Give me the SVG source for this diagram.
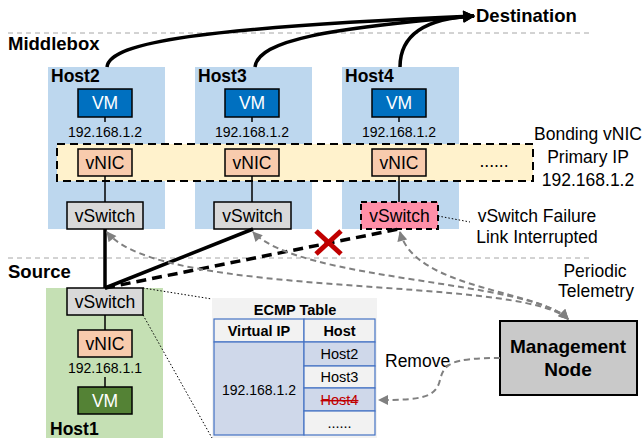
<svg xmlns="http://www.w3.org/2000/svg" width="643" height="438" viewBox="0 0 643 438">
<defs>
<style>
text{font-family:"Liberation Sans",Arial,sans-serif;fill:#000}
.b{font-weight:bold}
.host{fill:#BDD7EE}
.vm{fill:#0070C0;stroke:#000;stroke-width:1.5}
.vmt{fill:#fff;font-size:17.5px;text-anchor:middle}
.nic{fill:#F8CBAD;stroke:#000;stroke-width:1.5}
.sw{fill:#D9D9D9;stroke:#000;stroke-width:1.5}
.lbl{font-size:17.5px;text-anchor:middle}
.ip{font-size:14px;text-anchor:middle}
.stem{stroke:#000;stroke-width:1.5}
.sep{stroke:#A6A6A6;stroke-width:1;stroke-dasharray:5,4;fill:none}
.thick{stroke:#000;stroke-width:3.5;fill:none}
.tele{stroke:#808080;stroke-width:2;stroke-dasharray:6,4;fill:none}
.cell{stroke:#4472C4;stroke-width:1.2}
.tt{font-size:14.5px;text-anchor:middle}
.side{font-size:17.5px;text-anchor:middle}
</style>
<marker id="ab" viewBox="0 0 10 10" refX="9" refY="5" markerWidth="14" markerHeight="12" markerUnits="userSpaceOnUse" orient="auto"><path d="M0,0 L10,5 L0,10 z" fill="#000"/></marker>
<marker id="ag" viewBox="0 0 10 10" refX="9" refY="5" markerWidth="11" markerHeight="10" markerUnits="userSpaceOnUse" orient="auto-start-reverse"><path d="M0,0 L10,5 L0,10 z" fill="#808080"/></marker>
</defs>

<!-- separators -->
<line class="sep" x1="8" y1="33" x2="593" y2="33"/>
<line class="sep" x1="8" y1="258" x2="593" y2="258"/>

<text class="b" x="8" y="50" font-size="18.5">Middlebox</text>
<text class="b" x="8" y="278" font-size="18.5">Source</text>

<!-- hosts -->
<g id="host2">
<rect class="host" x="48" y="67" width="117" height="162"/>
<text class="b" x="51" y="82" font-size="17.5">Host2</text>
</g>
<g id="host3">
<rect class="host" x="195" y="67" width="117" height="162"/>
<text class="b" x="198" y="82" font-size="17.5">Host3</text>
</g>
<g id="host4">
<rect class="host" x="342" y="67" width="117" height="162"/>
<text class="b" x="345" y="82" font-size="17.5">Host4</text>
</g>

<!-- bonding -->
<g id="bonding">
<rect x="57" y="144" width="476" height="37" fill="#FFF2CC" stroke="#000" stroke-width="2" stroke-dasharray="8,5"/>
<text x="494" y="167" font-size="17.5" text-anchor="middle">......</text>
</g>

<g id="vm2"><rect class="vm" x="78" y="89" width="54" height="28"/><text class="vmt" x="105" y="109">VM</text><line class="stem" x1="105" y1="117" x2="105" y2="122"/><text class="ip" x="105" y="137">192.168.1.2</text></g>
<g id="vm3"><rect class="vm" x="225" y="89" width="54" height="28"/><text class="vmt" x="252" y="109">VM</text><line class="stem" x1="252" y1="117" x2="252" y2="122"/><text class="ip" x="252" y="137">192.168.1.2</text></g>
<g id="vm4"><rect class="vm" x="372" y="89" width="54" height="28"/><text class="vmt" x="399" y="109">VM</text><line class="stem" x1="399" y1="117" x2="399" y2="122"/><text class="ip" x="399" y="137">192.168.1.2</text></g>

<g id="vnic2"><rect class="nic" x="78" y="149" width="54" height="27"/><text class="lbl" x="105" y="169">vNIC</text><line class="stem" x1="105" y1="176" x2="105" y2="202"/></g>
<g id="vnic3"><rect class="nic" x="225" y="149" width="54" height="27"/><text class="lbl" x="252" y="169">vNIC</text><line class="stem" x1="252" y1="176" x2="252" y2="202"/></g>
<g id="vnic4"><rect class="nic" x="372" y="149" width="54" height="27"/><text class="lbl" x="399" y="169">vNIC</text><line class="stem" x1="399" y1="176" x2="399" y2="202"/></g>

<g id="vswitch2"><rect class="sw" x="67" y="202" width="76" height="27"/><text class="lbl" x="105" y="222">vSwitch</text></g>
<g id="vswitch3"><rect class="sw" x="214" y="202" width="77" height="27"/><text class="lbl" x="252.5" y="222">vSwitch</text></g>
<g id="vswitch4"><rect x="361" y="202" width="77" height="27" fill="#FF8FA8" stroke="#000" stroke-width="2" stroke-dasharray="6,4"/><text class="lbl" x="399.5" y="222">vSwitch</text></g>

<!-- host1 -->
<g id="host1">
<rect x="46" y="288" width="117" height="150" fill="#C5E0B4"/>
<rect class="sw" x="67" y="288" width="76" height="27"/><text class="lbl" x="105" y="308">vSwitch</text>
<line class="stem" x1="105" y1="315" x2="105" y2="330"/>
<rect class="nic" x="78" y="330" width="54" height="27"/><text class="lbl" x="105" y="350">vNIC</text>
<text class="ip" x="105" y="373">192.168.1.1</text>
<line class="stem" x1="105" y1="377" x2="105" y2="387"/>
<rect x="78" y="387" width="54" height="27" fill="#548235" stroke="#000" stroke-width="1.5"/><text class="vmt" x="105" y="407">VM</text>
<text class="b" x="50" y="435" font-size="17.5">Host1</text>
</g>

<!-- labels -->
<g id="destination"><text class="b" x="476" y="22" font-size="18.5">Destination</text></g>
<g id="bond-label">
<text class="side" x="588" y="140">Bonding vNIC</text>
<text class="side" x="588" y="163">Primary IP</text>
<text class="side" x="588" y="186">192.168.1.2</text>
</g>
<g id="failure-label">
<text class="side" x="537" y="222">vSwitch Failure</text>
<text class="side" x="537" y="243">Link Interrupted</text>
</g>
<g id="telemetry-label">
<text class="side" x="595" y="277">Periodic</text>
<text class="side" x="596" y="297">Telemetry</text>
</g>
<text x="385" y="367" font-size="17.5">Remove</text>

<!-- management -->
<g id="management">
<rect x="500" y="321" width="137" height="74" fill="#C9C9C9" stroke="#000" stroke-width="2"/>
<text class="b" x="568" y="353" font-size="19" text-anchor="middle">Management</text>
<text class="b" x="568" y="376" font-size="19" text-anchor="middle">Node</text>
</g>

<!-- ECMP table -->
<g id="ecmp">
<rect x="212" y="298" width="165" height="140" fill="#F2F2F2"/>
<text class="b" x="295" y="315" font-size="14.5" text-anchor="middle">ECMP Table</text>
<rect class="cell" x="214" y="319" width="90" height="23" fill="#F2F2F2"/>
<rect class="cell" x="304" y="319" width="71" height="23" fill="#F2F2F2"/>
<rect class="cell" x="214" y="342" width="90" height="93" fill="#CFD8EA"/>
<rect class="cell" x="304" y="342" width="71" height="24" fill="#CFD8EA"/>
<rect class="cell" x="304" y="366" width="71" height="22" fill="#F2F2F2"/>
<rect class="cell" x="304" y="388" width="71" height="23" fill="#CFD8EA"/>
<rect class="cell" x="304" y="411" width="71" height="24" fill="#F2F2F2"/>
<text class="b" x="259" y="336" font-size="14.5" text-anchor="middle">Virtual IP</text>
<text class="b" x="339.5" y="336" font-size="14.5" text-anchor="middle">Host</text>
<text x="259" y="395" font-size="14" text-anchor="middle">192.168.1.2</text>
<text class="tt" x="339.5" y="359">Host2</text>
<text class="tt" x="339.5" y="382">Host3</text>
<text class="tt" x="339.5" y="405" style="fill:#C00000" text-decoration="line-through">Host4</text>
<text class="tt" x="339.5" y="428">......</text>
</g>

<!-- connectors -->
<g id="connectors">
<path class="thick" d="M107,67 C110,42 200,28 474,16" marker-end="url(#ab)"/>
<path class="thick" d="M255,67 C258,40 330,28 474,16" marker-end="url(#ab)"/>
<path class="thick" d="M400,67 C400,32 430,18 474,16" marker-end="url(#ab)"/>
<line class="thick" x1="105" y1="229" x2="105" y2="288"/>
<line class="thick" x1="105" y1="288" x2="253" y2="229"/>
<line class="thick" x1="105" y1="288" x2="399" y2="229" stroke-dasharray="10,6"/>
<path d="M316,231 L341,254 M341,231 L316,254" stroke="#C00000" stroke-width="5" fill="none"/>
<path class="tele" d="M568,319 C540,290 415,290 400,232" marker-start="url(#ag)" marker-end="url(#ag)"/>
<path class="tele" d="M568,319 C530,280 300,282 253,232" marker-start="url(#ag)" marker-end="url(#ag)"/>
<path class="tele" d="M568,319 C520,275 160,300 107,232" marker-start="url(#ag)" marker-end="url(#ag)"/>
<path class="tele" d="M500,358 C450,358 444,364 440,380 C436,398 420,400 379,400" marker-end="url(#ag)"/>
<line x1="438" y1="216" x2="470" y2="222" stroke="#000" stroke-width="1" stroke-dasharray="1.5,2"/>
<line x1="143" y1="288" x2="212" y2="299" stroke="#000" stroke-width="1" stroke-dasharray="1.5,2"/>
<line x1="143" y1="315" x2="212" y2="438" stroke="#000" stroke-width="1" stroke-dasharray="1.5,2"/>
</g>
</svg>
